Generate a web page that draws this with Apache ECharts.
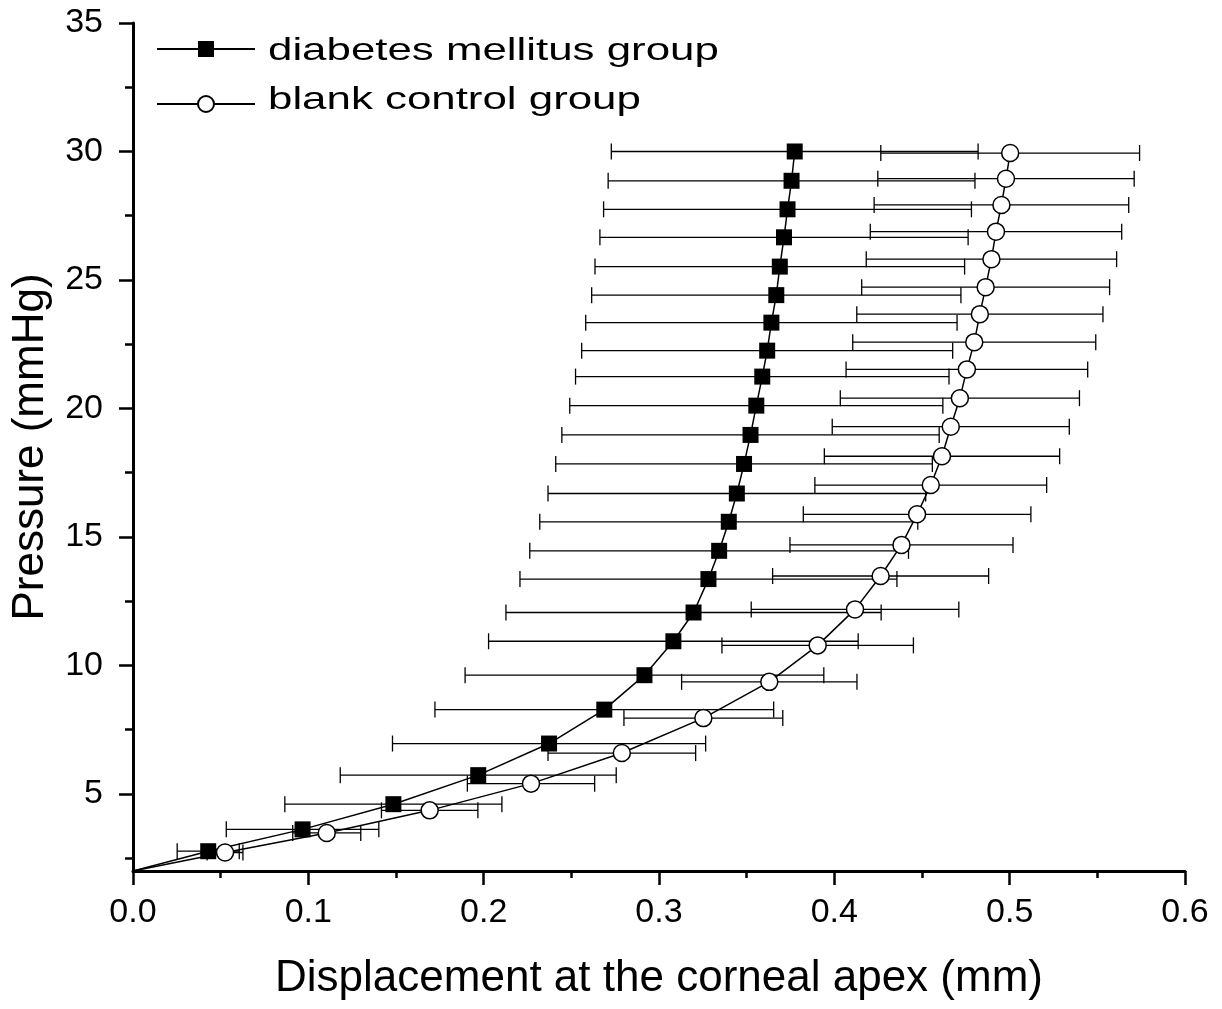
<!DOCTYPE html>
<html>
<head>
<meta charset="utf-8">
<title>Pressure vs displacement at the corneal apex</title>
<script src="https://cdn.jsdelivr.net/npm/echarts@6/dist/echarts.min.js"></script>
<style>
    html, body { margin: 0; padding: 0; background: #fff; }
    #main { width: 1222px; height: 1009px; }
</style>
</head>
<body>
<div id="main"></div>
<script>
// diabetes mellitus group: displacement (mm), pressure (mmHg), error (mm)
const dmX = [0, 0.0429, 0.0967, 0.1485, 0.1969, 0.2373, 0.2688, 0.2917, 0.3082, 0.3197, 0.3282, 0.3343, 0.3398,
    0.3444, 0.3485, 0.3522, 0.3555, 0.3589, 0.3617, 0.3641, 0.3669, 0.3689, 0.3713, 0.3733, 0.3756, 0.3774];
const dmY = [2, 2.77, 3.62, 4.60, 5.73, 6.96, 8.28, 9.62, 10.94, 12.06, 13.36, 14.46, 15.59,
    16.69, 17.84, 18.97, 20.11, 21.24, 22.25, 23.34, 24.41, 25.52, 26.66, 27.75, 28.86, 30.0];
const dmErr = [0, 0.0177, 0.0435, 0.0619, 0.0787, 0.0893, 0.0966, 0.1023, 0.1054, 0.1070, 0.1075, 0.1080, 0.1078,
    0.1077, 0.1074, 0.1076, 0.1064, 0.1065, 0.1058, 0.1059, 0.1053, 0.1054, 0.1050, 0.1049, 0.1046, 0.1046];

// blank control group
const bcX = [0, 0.0525, 0.1105, 0.1692, 0.2270, 0.2788, 0.3253, 0.3629, 0.3905, 0.4118, 0.4264, 0.4383, 0.4472,
    0.4550, 0.4614, 0.4664, 0.4716, 0.4756, 0.4798, 0.4830, 0.4863, 0.4896, 0.4922, 0.4953, 0.4979, 0.5003];
const bcY = [2, 2.72, 3.48, 4.36, 5.40, 6.59, 7.95, 9.36, 10.78, 12.18, 13.48, 14.69, 15.88,
    17.02, 18.14, 19.29, 20.40, 21.52, 22.58, 23.67, 24.72, 25.81, 26.88, 27.92, 28.94, 29.94];
const bcErr = [0, 0.0102, 0.0194, 0.0275, 0.0363, 0.0421, 0.0453, 0.0500, 0.0546, 0.0592, 0.0616, 0.0636, 0.0649,
    0.0661, 0.0671, 0.0676, 0.0682, 0.0689, 0.0693, 0.0702, 0.0707, 0.0714, 0.0717, 0.0726, 0.0731, 0.0738];

// axis ticks
const yMajorTicks = [5, 10, 15, 20, 25, 30, 35];
const yMinorTicks = [2.5, 7.5, 12.5, 17.5, 22.5, 27.5, 32.5];

const seriesNames = ["diabetes mellitus group", "blank control group"];
const font = "'Liberation Sans', Arial, sans-serif";

//点数据 (原点不画符号)
function toPoints(xs, ys) {
    return xs.map((x, i) => {
        if (x === 0) {
            return { value: [x, ys[i]], symbol: "none" };
        }
        return [x, ys[i]];
    });
}

//误差棒数据
function toErrors(xs, ys, es) {
    return xs.map((x, i) => [x, ys[i], es[i]]);
}

//画水平误差棒
function renderErrorBar(params, api) {
    let x = api.value(0);
    let y = api.value(1);
    let e = api.value(2);
    if (!e) {
        return;
    }
    let left = api.coord([x - e, y]);
    let right = api.coord([x + e, y]);
    let cap = 8;
    let style = { stroke: "#000", lineWidth: 1.3, fill: null };
    return {
        type: "group",
        children: [
            { type: "line", shape: { x1: left[0], y1: left[1], x2: right[0], y2: right[1] }, style: style },
            { type: "line", shape: { x1: left[0], y1: left[1] - cap, x2: left[0], y2: left[1] + cap }, style: style },
            { type: "line", shape: { x1: right[0], y1: right[1] - cap, x2: right[0], y2: right[1] + cap }, style: style },
        ],
    };
}

//图例 (图标用legend, 文字横向拉宽)
function legendItem(name, top) {
    return {
        data: [name],
        left: 156,
        top: top,
        padding: 0,
        itemWidth: 98,
        itemHeight: 20,
        formatter: () => "",
        selectedMode: false,
    };
}

function legendText(name, y) {
    return {
        type: "text",
        x: 268,
        y: y,
        scaleX: 1.37,
        style: {
            text: name,
            font: "32px " + font,
            fill: "#000",
            verticalAlign: "middle",
        },
    };
}

let myChart = echarts.init(document.getElementById("main"));

let option = {
    backgroundColor: "#fff",
    animation: false,
    textStyle: { fontFamily: font, color: "#000" },
    grid: { left: 133, right: 37, top: 23, bottom: 138 },
    legend: [legendItem(seriesNames[0], 39), legendItem(seriesNames[1], 94)],
    graphic: [legendText(seriesNames[0], 51), legendText(seriesNames[1], 100)],
    xAxis: {
        type: "value",
        min: 0,
        max: 0.6,
        interval: 0.1,
        z: 3,
        name: "Displacement at the corneal apex (mm)",
        nameLocation: "middle",
        nameGap: 86,
        nameTextStyle: { fontFamily: font, fontSize: 44, color: "#000" },
        axisLine: { show: true, lineStyle: { color: "#000", width: 3 } },
        axisTick: { show: true, length: 14, lineStyle: { color: "#000", width: 2.5 } },
        minorTick: { show: true, splitNumber: 2, length: 7, lineStyle: { color: "#000", width: 2.5 } },
        axisLabel: {
            fontFamily: font,
            fontSize: 34,
            color: "#000",
            margin: 25,
            formatter: (v) => v.toFixed(1),
        },
        splitLine: { show: false },
    },
    yAxis: [
        {
            type: "value",
            min: 2,
            max: 35,
            position: "left",
            z: 3,
            name: "Pressure (mmHg)",
            nameLocation: "middle",
            nameGap: 80,
            nameTextStyle: { fontFamily: font, fontSize: 44, color: "#000" },
            axisLine: { show: true, lineStyle: { color: "#000", width: 3 } },
            axisTick: { show: true, length: 14, customValues: yMajorTicks, lineStyle: { color: "#000", width: 2.5 } },
            axisLabel: { fontFamily: font, fontSize: 34, color: "#000", margin: 30, customValues: yMajorTicks },
            splitLine: { show: false },
        },
        {
            //小刻度
            type: "value",
            min: 2,
            max: 35,
            position: "left",
            offset: 0,
            z: 3,
            axisLine: { show: false },
            axisTick: { show: true, length: 8, customValues: yMinorTicks, lineStyle: { color: "#000", width: 2.5 } },
            axisLabel: { show: false },
            splitLine: { show: false },
        },
    ],
    series: [
        {
            type: "custom",
            renderItem: renderErrorBar,
            data: toErrors(dmX, dmY, dmErr),
            encode: { x: 0, y: 1 },
            z: 1,
            silent: true,
        },
        {
            type: "custom",
            renderItem: renderErrorBar,
            data: toErrors(bcX, bcY, bcErr),
            encode: { x: 0, y: 1 },
            z: 1,
            silent: true,
        },
        {
            name: seriesNames[0],
            type: "line",
            data: toPoints(dmX, dmY),
            symbol: "rect",
            symbolSize: 16,
            itemStyle: { color: "#000", borderColor: "#000", borderWidth: 0 },
            lineStyle: { color: "#000", width: 1.5 },
            z: 2,
        },
        {
            name: seriesNames[1],
            type: "line",
            data: toPoints(bcX, bcY),
            symbol: "circle",
            symbolSize: 17,
            itemStyle: { color: "#fff", borderColor: "#000", borderWidth: 1.5 },
            lineStyle: { color: "#000", width: 1.5 },
            z: 2,
        },
    ],
};

myChart.setOption(option);
</script>
</body>
</html>
